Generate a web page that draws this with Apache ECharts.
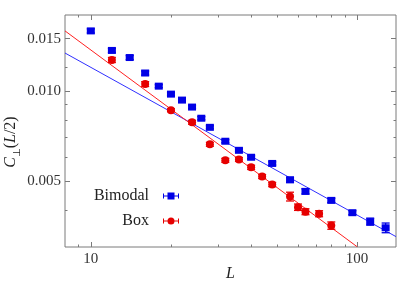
<!DOCTYPE html>
<html><head><meta charset="utf-8">
<script src="https://cdn.jsdelivr.net/npm/echarts@6/dist/echarts.min.js"></script>
<style>html,body{margin:0;padding:0;background:#fff}#c{width:409px;height:286px}</style>
</head><body><div id="c"></div>
<script>
const bimodalL = [10,12,14,16,18,20,22,24,26,28,32,36,40,48,56,64,80,96,112,128];
const bimodalC = [0.01592,0.01369,0.01296,0.01150,0.01039,0.00977,0.00933,0.00884,0.00811,0.00756,0.00679,0.00633,0.00600,0.00572,0.00504,0.00461,0.00430,0.00391,0.00365,0.00348];
const bimodalErr = [0.00025,0.00021,0.0002,0.00018,0.00012,0.00011,0.00011,0.0001,0.0001,0.00009,0.00008,0.00007,0.00007,0.00007,0.0001,0.00009,0.00007,0.00006,0.0001,0.00013];
const boxL = [12,16,20,24,28,32,36,40,44,48,56,60,64,72,80];
const boxC = [0.01272,0.01056,0.00863,0.00786,0.00663,0.00586,0.00590,0.00555,0.00517,0.00486,0.00443,0.00408,0.00394,0.00388,0.00354];
const boxErr = [0.00025,0.0002,0.0001,0.00012,0.0001,0.00009,0.00009,0.00009,0.00008,0.00008,0.00015,0.0001,0.00009,0.00009,0.0001];
const bimodalFitL = [8, 140];
const bimodalFitC = [0.01342, 0.00325];
const boxFitL = [8, 100];
const boxFitC = [0.01592, 0.003007];
const xMajorTicks = [10, 100];
const xMinorTicks = [9,20,30,40,50,60,70,80,90];
const yMajorTicks = [0.005, 0.010, 0.015];
const yMinorTicks = [0.004,0.006,0.007,0.008,0.009,0.012];
const seriesNames = ['Bimodal', 'Box'];

const FONT = 'Liberation Serif';
const GRAY = '#7a7a7a';
const BLUE = '#0000e6';
const RED = '#e60000';
const XMIN = 8, XMAX = 140, YMIN = 0.003, YMAX = 0.018;

function mkAxis(kind, pos, ticks, len, labels, extra) {
  const a = {
    type: 'log', logBase: 10, position: pos,
    min: kind === 'x' ? XMIN : YMIN, max: kind === 'x' ? XMAX : YMAX,
    axisLine: {show: false}, splitLine: {show: false}, minorTick: {show: false},
    axisTick: {show: true, inside: true, length: len, customValues: ticks, lineStyle: {color: GRAY, width: 1}},
    axisLabel: labels ? {
      show: true, customValues: ticks, margin: kind === 'x' ? 5 : 4,
      fontFamily: FONT, fontSize: 15, color: '#333',
      formatter: kind === 'x' ? (v => String(Math.round(v))) : (v => Number(v).toFixed(3))
    } : {show: false}
  };
  return Object.assign(a, extra || {});
}

function errBar(color) {
  return function (params, api) {
    const x = api.value(0);
    const lo = api.coord([x, api.value(1)]);
    const hi = api.coord([x, api.value(2)]);
    const w = 4;
    const st = {stroke: color, lineWidth: 1.3};
    return {type: 'group', children: [
      {type: 'line', shape: {x1: lo[0], y1: lo[1], x2: hi[0], y2: hi[1]}, style: st},
      {type: 'line', shape: {x1: lo[0] - w, y1: lo[1], x2: lo[0] + w, y2: lo[1]}, style: st},
      {type: 'line', shape: {x1: hi[0] - w, y1: hi[1], x2: hi[0] + w, y2: hi[1]}, style: st}
    ]};
  };
}

const ICON_SQ = 'path://M0,1.5h1v5h-1z M15,1.5h1v5h-1z M1,3.5h14v1h-14z M4.5,0.5h7v7h-7z';
const ICON_CI = 'path://M0,1.5h1v5h-1z M15,1.5h1v5h-1z M1,3.5h14v1h-14z M4.5,4a3.5,3.5 0 1,1 7,0a3.5,3.5 0 1,1 -7,0z';

function mkLegend(name, icon, top) {
  return {
    data: [{name: name, icon: icon}], orient: 'vertical', right: 230, top: top,
    align: 'right', itemWidth: 16, itemHeight: 7, selectedMode: false, padding: 0,
    textStyle: {fontFamily: FONT, fontSize: 16, color: '#222', padding: [0, 9, 0, 0]}
  };
}

const chart = echarts.init(document.getElementById('c'), null, {renderer: 'canvas'});
chart.setOption({
  animation: false,
  backgroundColor: '#fff',
  grid: {left: 65, right: 13, top: 15, bottom: 39, show: true, borderColor: GRAY, borderWidth: 1,
    backgroundColor: 'transparent', containLabel: false, outerBoundsMode: 'none'},
  legend: [mkLegend(seriesNames[0], ICON_SQ, 188), mkLegend(seriesNames[1], ICON_CI, 213)],
  xAxis: [
    mkAxis('x', 'bottom', xMajorTicks, 5, true, {
      name: 'L', nameLocation: 'middle', nameGap: 19, nameMoveOverlap: false,
      nameTextStyle: {fontFamily: FONT, fontSize: 16, fontStyle: 'italic', color: '#222'}
    }),
    mkAxis('x', 'bottom', xMinorTicks, 2.5, false),
    mkAxis('x', 'top', xMajorTicks, 5, false),
    mkAxis('x', 'top', xMinorTicks, 2.5, false)
  ],
  yAxis: [
    mkAxis('y', 'left', yMajorTicks, 5, true, {
      name: '{i|C}{s|\u22a5}{n|(}{i|L}{n|/2)}', nameLocation: 'middle', nameGap: 43, nameMoveOverlap: false,
      nameTextStyle: {
        fontFamily: FONT, fontSize: 16, color: '#222', padding: [0, 22, 0, 0],
        rich: {
          i: {fontFamily: FONT, fontSize: 16, fontStyle: 'italic', color: '#222', lineHeight: 22, verticalAlign: 'middle'},
          n: {fontFamily: FONT, fontSize: 16, color: '#222', lineHeight: 22, verticalAlign: 'middle'},
          s: {fontFamily: 'DejaVu Sans', fontSize: 10, color: '#222', lineHeight: 10, verticalAlign: 'bottom'}
        }
      }
    }),
    mkAxis('y', 'left', yMinorTicks, 2.5, false),
    mkAxis('y', 'right', yMajorTicks, 5, false),
    mkAxis('y', 'right', yMinorTicks, 2.5, false)
  ],
  series: [
    {type: 'line', name: 'Bimodal fit', data: bimodalFitL.map((L, i) => [L, bimodalFitC[i]]),
      showSymbol: false, symbol: 'none', lineStyle: {color: '#3030ff', width: 1}, silent: true, z: 1},
    {type: 'line', name: 'Box fit', data: boxFitL.map((L, i) => [L, boxFitC[i]]),
      showSymbol: false, symbol: 'none', lineStyle: {color: '#ff2020', width: 1}, silent: true, z: 1},
    {type: 'custom', name: 'Bimodal err', renderItem: errBar(BLUE), encode: {x: 0, y: [1, 2]},
      data: bimodalL.map((L, i) => [L, bimodalC[i] - bimodalErr[i], bimodalC[i] + bimodalErr[i]]), z: 3},
    {type: 'custom', name: 'Box err', renderItem: errBar(RED), encode: {x: 0, y: [1, 2]},
      data: boxL.map((L, i) => [L, boxC[i] - boxErr[i], boxC[i] + boxErr[i]]), z: 3},
    {type: 'scatter', name: seriesNames[0], symbol: 'rect', symbolSize: [8, 7],
      itemStyle: {color: BLUE, opacity: 1}, data: bimodalL.map((L, i) => [L, bimodalC[i]]), z: 4},
    {type: 'scatter', name: seriesNames[1], symbol: 'circle', symbolSize: 8,
      itemStyle: {color: RED, opacity: 1}, data: boxL.map((L, i) => [L, boxC[i]]), z: 4}
  ]
});
</script>
</body></html>
